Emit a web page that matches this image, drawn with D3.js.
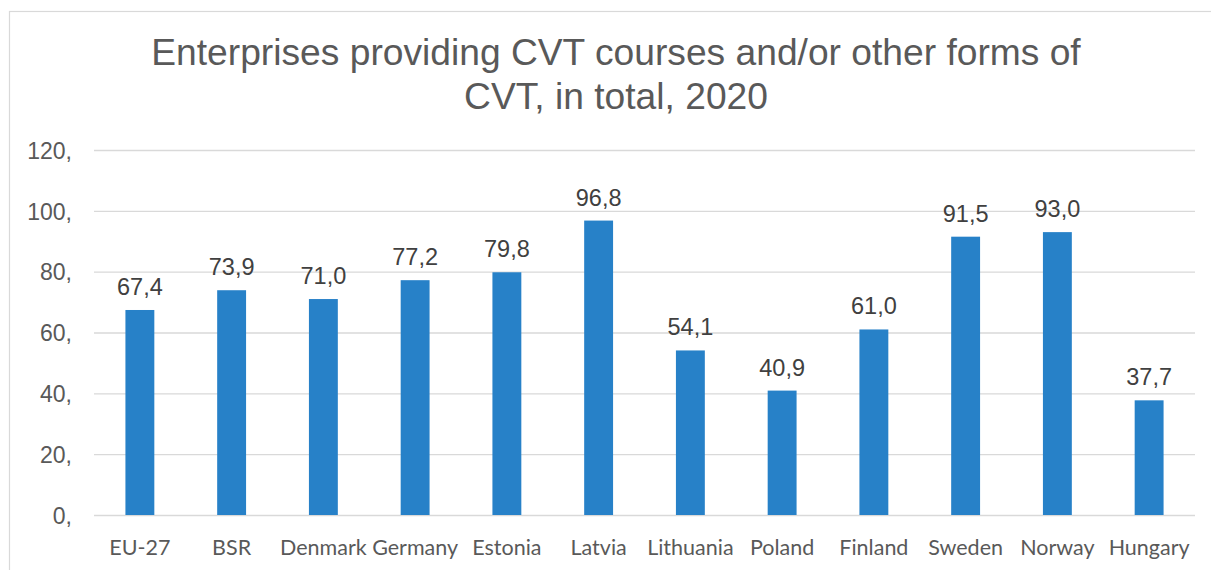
<!DOCTYPE html>
<html>
<head>
<meta charset="utf-8">
<script src="https://cdn.jsdelivr.net/npm/d3@7"></script>
<style>
  html, body { margin: 0; padding: 0; background: #fff; }
  svg { display: block; }
</style>
</head>
<body>
<svg id="chart" width="1211" height="570"></svg>
<script>
// Share of enterprises providing CVT, 2020 (%)
const categories = ["EU-27", "BSR", "Denmark", "Germany", "Estonia", "Latvia",
  "Lithuania", "Poland", "Finland", "Sweden", "Norway", "Hungary"];
const values = [67.4, 73.9, 71.0, 77.2, 79.8, 96.8, 54.1, 40.9, 61.0, 91.5, 93.0, 37.7];
const yTicks = [0, 20, 40, 60, 80, 100, 120];
const yTickLabels = ["0,", "20,", "40,", "60,", "80,", "100,", "120,"];
const titleLines = ["Enterprises providing CVT courses and/or other forms of", "CVT, in total, 2020"];

const svg = d3.select("#chart");

// outer chart frame
svg.append("rect")
  .attr("x", 9.5).attr("y", 11.5)
  .attr("width", 1240).attr("height", 600)
  .attr("fill", "#fff")
  .attr("stroke", "#d9d9d9").attr("stroke-width", 1.2);

const plot = { left: 94, right: 1195, top: 150, bottom: 515 };

const x = d3.scaleBand()
  .domain(categories)
  .range([plot.left, plot.right])
  .paddingInner(0.685)
  .paddingOuter(0.3425);

const y = d3.scaleLinear()
  .domain([0, 120])
  .range([plot.bottom, plot.top]);

// title
svg.append("text")
  .attr("x", 616).attr("y", 65)
  .attr("text-anchor", "middle")
  .attr("font-family", "Liberation Sans, Arial, sans-serif")
  .attr("font-size", 37.2)
  .attr("fill", "#595959")
  .selectAll("tspan")
  .data(titleLines)
  .join("tspan")
  .attr("x", 616)
  .attr("dy", (d, i) => i === 0 ? 0 : 44)
  .text(d => d);

// gridlines + y tick labels
const yAxis = d3.axisLeft(y)
  .tickValues(yTicks)
  .tickSize(-(plot.right - plot.left))
  .tickPadding(22)
  .tickFormat((d, i) => yTickLabels[i]);

const gy = svg.append("g")
  .attr("transform", `translate(${plot.left},0)`)
  .call(yAxis);
gy.select(".domain").remove();
gy.selectAll(".tick line")
  .attr("stroke", "#d9d9d9")
  .attr("stroke-width", 1.4);
gy.selectAll(".tick text")
  .attr("font-family", "Liberation Sans, Arial, sans-serif")
  .attr("font-size", 23)
  .attr("fill", "#595959")
  .attr("dy", "0.36em");

// bars
svg.append("g")
  .selectAll("rect")
  .data(values)
  .join("rect")
  .attr("x", (d, i) => x(categories[i]))
  .attr("y", d => y(d))
  .attr("width", x.bandwidth())
  .attr("height", d => y(0) - y(d))
  .attr("fill", "#2781c8");

// value labels
svg.append("g")
  .selectAll("text")
  .data(values)
  .join("text")
  .attr("x", (d, i) => x(categories[i]) + x.bandwidth() / 2)
  .attr("y", d => y(d) - 15)
  .attr("text-anchor", "middle")
  .attr("font-family", "Liberation Sans, Arial, sans-serif")
  .attr("font-size", 23.5)
  .attr("fill", "#404040")
  .text(d => d.toFixed(1).replace(".", ","));

// category axis
const xAxis = d3.axisBottom(x).tickSize(0).tickPadding(0);
const gx = svg.append("g")
  .attr("transform", `translate(0,${plot.bottom})`)
  .call(xAxis);
gx.select(".domain").remove();
gx.selectAll(".tick text")
  .attr("font-family", "Lato, Open Sans, sans-serif")
  .attr("font-size", 21.5)
  .attr("fill", "#595959")
  .attr("dy", 0)
  .attr("y", 40);
</script>
</body>
</html>
